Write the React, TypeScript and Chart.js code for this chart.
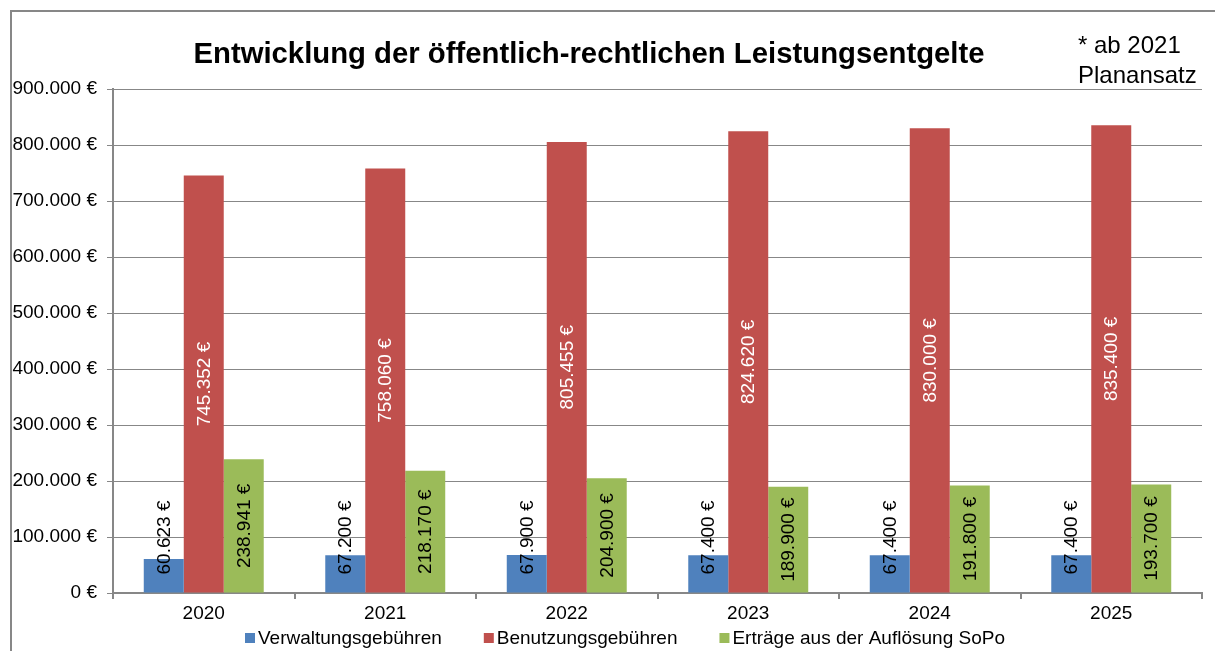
import React, { useEffect, useRef } from "react";
import { Chart, registerables } from "chart.js";

Chart.register(...registerables);

const categories = ["2020", "2021", "2022", "2023", "2024", "2025"];
const verwaltung = [60623, 67200, 67900, 67400, 67400, 67400];
const benutzung = [745352, 758060, 805455, 824620, 830000, 835400];
const ertraege = [238941, 218170, 204900, 189900, 191800, 193700];
const seriesNames = ["Verwaltungsgebühren", "Benutzungsgebühren", "Erträge aus der Auflösung SoPo"];
const seriesColors = ["#4F81BD", "#C0504D", "#9BBB59"];
const labelColors = ["#000000", "#ffffff", "#000000"];
const titleText = "Entwicklung der öffentlich-rechtlichen Leistungsentgelte";
const noteLines = ["* ab 2021", "Planansatz"];

const FONT = "'Liberation Sans', Arial, sans-serif";
const GRID = "#878787";

function fmt(v: number): string {
  const s = Math.round(v).toString();
  return s.replace(/\B(?=(\d{3})+(?!\d))/g, ".") + " €";
}

const decorPlugin = {
  id: "decor",
  beforeDraw(chart: any) {
    const ctx = chart.ctx;
    ctx.save();
    ctx.fillStyle = "#ffffff";
    ctx.fillRect(0, 0, chart.width, chart.height);
    ctx.strokeStyle = GRID;
    ctx.lineWidth = 2;
    ctx.strokeRect(11, 11, 1400, 1000);
    ctx.restore();
  },
  afterDraw(chart: any) {
    const ctx = chart.ctx;
    ctx.save();
    ctx.fillStyle = "#000";
    ctx.font = `bold 29.3px ${FONT}`;
    ctx.textAlign = "center";
    ctx.textBaseline = "alphabetic";
    ctx.fillText(titleText, 589, 63);
    ctx.font = `24px ${FONT}`;
    ctx.textAlign = "left";
    ctx.fillText(noteLines[0], 1078, 53);
    ctx.fillText(noteLines[1], 1078, 83);
    // legend
    ctx.font = `19px ${FONT}`;
    ctx.textBaseline = "middle";
    let x = 245;
    const y = 638;
    for (let i = 0; i < seriesNames.length; i++) {
      ctx.fillStyle = seriesColors[i];
      ctx.fillRect(x, y - 5, 10, 10);
      x += 13;
      ctx.fillStyle = "#000";
      ctx.fillText(seriesNames[i], x, y + 1);
      x += ctx.measureText(seriesNames[i]).width + 42;
    }
    ctx.restore();
  },
  afterDatasetsDraw(chart: any) {
    const ctx = chart.ctx;
    ctx.save();
    ctx.font = `19px ${FONT}`;
    ctx.textAlign = "center";
    ctx.textBaseline = "middle";
    chart.data.datasets.forEach((ds: any, di: number) => {
      const meta = chart.getDatasetMeta(di);
      meta.data.forEach((bar: any, i: number) => {
        const text = fmt(ds.data[i]);
        const w = ctx.measureText(text).width;
        const h = bar.base - bar.y;
        let cy = (bar.y + bar.base) / 2;
        if (w > h - 4) cy = bar.base - 18 - w / 2;
        ctx.save();
        ctx.translate(bar.x + 1, cy);
        ctx.rotate(-Math.PI / 2);
        ctx.fillStyle = labelColors[di];
        ctx.fillText(text, 0, 0);
        ctx.restore();
      });
    });
    ctx.restore();
  },
};

export default function App() {
  const ref = useRef<HTMLCanvasElement | null>(null);
  useEffect(() => {
    if (!ref.current) return;
    const chart = new Chart(ref.current, {
      type: "bar",
      data: {
        labels: categories,
        datasets: [verwaltung, benutzung, ertraege].map((d, i) => ({
          label: seriesNames[i],
          data: d,
          backgroundColor: seriesColors[i],
          borderWidth: 0,
          barPercentage: 1.0,
          categoryPercentage: 0.661,
        })),
      },
      options: {
        responsive: false,
        devicePixelRatio: 1,
        animation: false,
        layout: { padding: { left: 0, right: 13, top: 89, bottom: 28 } },
        plugins: {
          legend: { display: false },
          title: { display: false },
          tooltip: { enabled: false },
        },
        scales: {
          x: {
            grid: { drawOnChartArea: false, drawTicks: true, tickLength: 6, color: GRID, lineWidth: 2, offset: true },
            border: { color: GRID, width: 2 },
            ticks: { color: "#000", font: { family: FONT, size: 19 }, padding: 3 },
            afterFit(scale: any) {
              scale.height = 30;
            },
          },
          y: {
            min: 0,
            max: 900000,
            grid: { color: GRID, tickLength: 6, drawTicks: true },
            border: { color: GRID, width: 2 },
            ticks: {
              stepSize: 100000,
              color: "#000",
              font: { family: FONT, size: 19 },
              padding: 10,
              callback: (v: any) => fmt(Number(v)),
            },
            afterFit(scale: any) {
              scale.width = 113;
            },
          },
        },
      },
      plugins: [decorPlugin],
    } as any);
    return () => chart.destroy();
  }, []);
  return (
    <div style={{ position: "absolute", left: 0, top: 0, width: 1215, height: 651 }}>
      <canvas ref={ref} width={1215} height={651} style={{ display: "block" }} />
    </div>
  );
}
